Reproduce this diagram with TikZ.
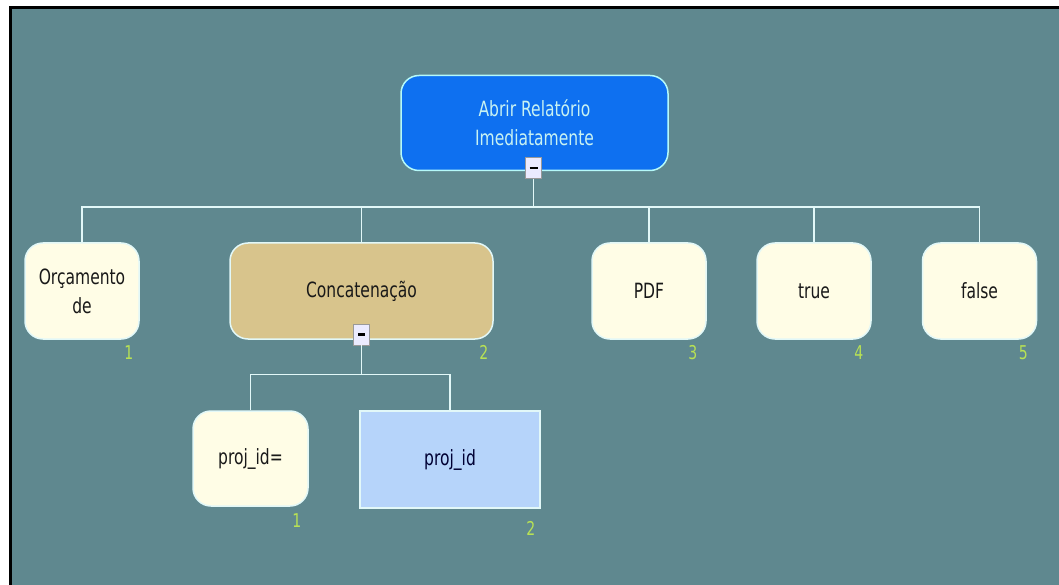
\documentclass[tikz,border=0pt]{standalone}
\usepackage{fontspec}
\setmainfont{DejaVu Sans}[FakeStretch=0.74]
\usetikzlibrary{calc}
\definecolor{bg}{RGB}{95,136,143}
\definecolor{rootblue}{RGB}{14,112,240}
\definecolor{cream}{RGB}{255,253,230}
\definecolor{tanbox}{RGB}{216,196,140}
\definecolor{lblue}{RGB}{182,212,250}
\definecolor{linec}{RGB}{226,248,248}
\definecolor{numc}{RGB}{184,226,84}
\definecolor{roottext}{RGB}{200,242,242}
\newcommand\boxfont{\fontsize{21}{29}\selectfont}
\newcommand\numfont{\fontsize{19}{22}\selectfont}
\begin{document}
\begin{tikzpicture}[x=1pt,y=-1pt,
  box/.style={draw=linec, line width=1.5pt, rounded corners=18pt, fill=cream,
    text=black!90, font=\boxfont, align=center, inner sep=0pt,
    minimum width=114pt, minimum height=96pt},
  rootbox/.style={box, fill=rootblue, draw=linec!80!cyan, text=roottext,
    minimum width=267pt, minimum height=95pt},
  sqbox/.style={box, rounded corners=0pt, fill=lblue, text=black!80!blue},
  minusbox/.style={draw=black!40, fill=white!92!blue, line width=0.6pt, inner sep=0pt,
    minimum width=16pt, minimum height=21pt},
  conn/.style={draw=linec, line width=1.5pt},
  num/.style={text=numc, font=\numfont, inner sep=0pt}]
\useasboundingbox (0,0) rectangle (1059,585);
\fill[white] (0,0) rectangle (1059,585);
\fill[bg] (10,8) rectangle (1059,585);
\draw[black, line width=3pt] (10.5,585) -- (10.5,7.5) -- (1059,7.5);

% nodes
\node[rootbox] (root) at (534.5,123) {Abrir Relatório\\Imediatamente};
\node[minusbox] (rminus) at (533.5,168) {\rule{8pt}{2.4pt}};

\node[box] (orc) at (82,291) {Orçamento\\de};
\node[box, fill=tanbox, minimum width=263pt] (concat) at (361.5,291) {Concatenação};
\node[box] (pdf) at (649,291) {PDF};
\node[box] (ntrue) at (814,291) {true};
\node[box] (nfalse) at (979.5,291) {false};
\node[minusbox] (cminus) at (361.5,334.5) {\rule{7pt}{2.4pt}};

\node[box, minimum width=115pt, minimum height=95pt] (projeq) at (250.5,458.5) {proj\_id=};
\node[sqbox, minimum width=180pt, minimum height=97pt] (projid) at (450,459.5) {proj\_id};

% numbers
\node[num] at ($(orc.south east)+(-11,13)$) {1};
\node[num] at ($(concat.south east)+(-10,13)$) {2};
\node[num] at ($(pdf.south east)+(-14,13)$) {3};
\node[num] at ($(ntrue.south east)+(-13,13)$) {4};
\node[num] at ($(nfalse.south east)+(-14,13)$) {5};
\node[num] at ($(projeq.south east)+(-12,14)$) {1};
\node[num] at ($(projid.south east)+(-10,20)$) {2};

% connectors
\draw[conn] (rminus.south) -- ++(0,28) coordinate (hub1);
\foreach \c in {orc,concat,pdf,ntrue,nfalse}
  \draw[conn] (hub1) -| (\c.north);
\draw[conn] (cminus.south) -- ++(0,29) coordinate (hub2);
\draw[conn] (hub2) -| (projeq.north);
\draw[conn] (hub2) -| (projid.north);
\end{tikzpicture}
\end{document}
